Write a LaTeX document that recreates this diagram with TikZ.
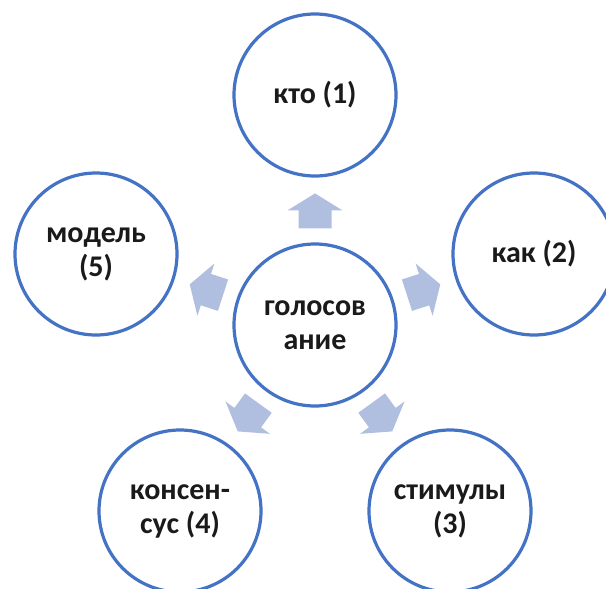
\documentclass[tikz,border=0pt]{standalone}
\usepackage{fontspec}
\setmainfont{Carlito}
\usetikzlibrary{calc}
\definecolor{ringblue}{RGB}{68,114,196}
\definecolor{arrowfill}{RGB}{176,190,224}
\definecolor{labelink}{RGB}{26,26,26}
\tikzset{
  topic/.style={circle, draw=ringblue, line width=3.2pt, fill=white,
    minimum size=162pt, inner sep=0pt, align=center,
    font=\fontsize{30}{34}\selectfont\bfseries, text=labelink},
  blockarrow/.pic={
    \fill[arrowfill] (-17.5,-16.5) -- (0.5,-16.5) -- (0.5,-27.5) -- (17.5,0)
      -- (0.5,27.5) -- (0.5,16.5) -- (-17.5,16.5) -- cycle;}
}
\begin{document}
\begin{tikzpicture}[x=1pt,y=-1pt]
  \useasboundingbox (0,0) rectangle (606,589);
  \clip (0,0) rectangle (606,589);
  % hub and its five satellites on a regular pentagon
  \node[topic] (hub) at (315,325) {голосов\\ание};
  \node[topic] (n1) at (315,95)  {кто (1)};
  \node[topic] (n2) at (534,254) {как (2)};
  \node[topic] (n3) at (450,511) {стимулы\\(3)};
  \node[topic] (n4) at (180,511) {консен-\\сус (4)};
  \node[topic] (n5) at (96,254)  {модель\\(5)};
  % block arrows pointing outward from the hub
  \pic[rotate=90]   at ($(hub)!0.496!(n1)$) {blockarrow};
  \pic[rotate=18]   at ($(hub)!0.496!(n2)$) {blockarrow};
  \pic[rotate=-54]  at ($(hub)!0.496!(n3)$) {blockarrow};
  \pic[rotate=-126] at ($(hub)!0.496!(n4)$) {blockarrow};
  \pic[rotate=162]  at ($(hub)!0.496!(n5)$) {blockarrow};
\end{tikzpicture}
\end{document}
